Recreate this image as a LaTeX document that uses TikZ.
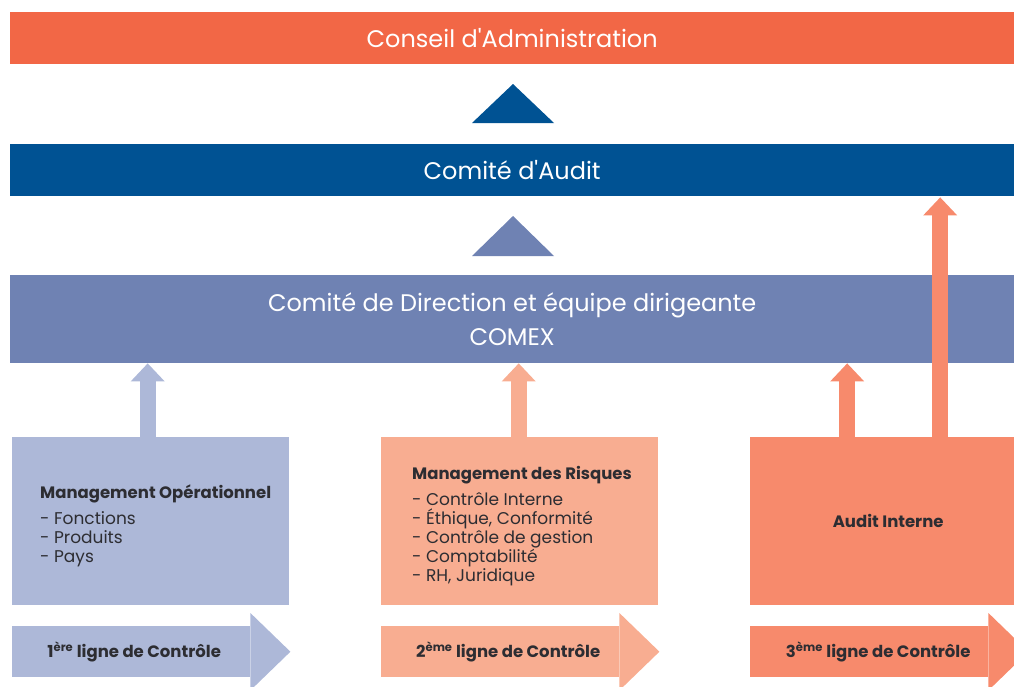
\documentclass[tikz,border=0pt]{standalone}
\usepackage{fontspec}
\setmainfont{Poppins}
\usetikzlibrary{arrows.meta,positioning,calc}
\definecolor{conseilred}{RGB}{242,103,70}
\definecolor{auditblue}{RGB}{0,82,147}
\definecolor{comexblue}{RGB}{111,130,179}
\definecolor{lineone}{RGB}{173,184,216}
\definecolor{linetwo}{RGB}{248,173,145}
\definecolor{linethree}{RGB}{247,138,108}
\definecolor{boxtext}{RGB}{45,45,50}

\begin{document}
\begin{tikzpicture}[x=1pt,y=-1pt,bar/.style={anchor=north west,minimum width=1004pt,inner sep=0pt,text=white,align=center,font=\fontsize{24}{34}\selectfont},linebox/.style={anchor=north west,minimum width=277pt,minimum height=168pt,inner sep=0pt,text=boxtext,font=\bfseries\fontsize{16.5}{19}\selectfont},boxlist/.style={anchor=west,align=left,inner sep=0pt,yshift=-5pt,text=boxtext,font=\fontsize{17}{19}\selectfont},lineband/.style={anchor=north west,minimum width=238pt,minimum height=51pt,inner sep=0pt,text=boxtext,font=\bfseries\fontsize{16.5}{18}\selectfont},uparrow/.style={line width=16pt,-{Triangle[width=34pt,length=18pt,line width=0pt]}}]
\useasboundingbox (0,0) rectangle (1014,686);
\clip (0,0) rectangle (1014,686);

% bars of the hierarchy
\node[bar,fill=conseilred,minimum height=52pt] (conseil) at (10,12) {Conseil d\textquotesingle Administration};
\node[bar,fill=auditblue,minimum height=52pt] (audit) at (10,144) {Comité d\textquotesingle Audit};
\node[bar,fill=comexblue,minimum height=88pt] (comex) at (10,275) {Comité de Direction et équipe dirigeante\\COMEX};
\fill[auditblue] (472,123) -- (513,84) -- (554,123) -- cycle;
\fill[comexblue] (472,256) -- (513,216) -- (554,256) -- cycle;

% three lines of control
\node[linebox,fill=lineone] (op) at (12,437) {};
\node[linebox,fill=linetwo] (risk) at (381,437) {};
\node[linebox,fill=linethree,minimum width=276pt] (ai) at (750,437) {Audit Interne};
\node[boxlist,right=28pt of op.west] (optext) {{\bfseries\fontsize{16.5}{19}\selectfont Management Opérationnel}\\[7pt]- Fonctions\\- Produits\\- Pays};
\node[boxlist,right=31pt of risk.west] (risktext) {{\bfseries\fontsize{16.5}{19}\selectfont Management des Risques}\\[7pt]- Contrôle Interne\\- Éthique, Conformité\\- Contrôle de gestion\\- Comptabilité\\- RH, Juridique};

\draw[uparrow,lineone] ($(op.north)+(-3,0)$) -- ($(op.north |- comex.south)+(-3,0)$);
\draw[uparrow,linetwo] ($(risk.north)+(-1,0)$) -- ($(risk.north |- comex.south)+(-1,0)$);
\draw[uparrow,linethree] ($(ai.north)+(-41,0)$) -- ($(ai.north |- comex.south)+(-41,0)$);
\draw[uparrow,linethree] ($(ai.north)+(52,0)$) -- ($(ai.north |- audit.south)+(52,1)$);

% bands at the bottom
\node[lineband,fill=lineone] (band1) at (12,626) {\hspace{6pt}1\textsuperscript{ère} ligne de Contrôle};
\node[lineband,fill=linetwo] (band2) at (381,626) {\hspace{16pt}2\textsuperscript{ème} ligne de Contrôle};
\node[lineband,fill=linethree] (band3) at (750,626) {\hspace{18pt}3\textsuperscript{ème} ligne de Contrôle};
\fill[lineone] ($(band1.north east)+(0,-13)$) -- ($(band1.east)+(40,0)$) -- ($(band1.south east)+(0,13)$) -- cycle;
\fill[linetwo] ($(band2.north east)+(0,-13)$) -- ($(band2.east)+(40,0)$) -- ($(band2.south east)+(0,13)$) -- cycle;
\fill[linethree] ($(band3.north east)+(0,-13)$) -- ($(band3.east)+(40,0)$) -- ($(band3.south east)+(0,13)$) -- cycle;
\end{tikzpicture}
\end{document}
